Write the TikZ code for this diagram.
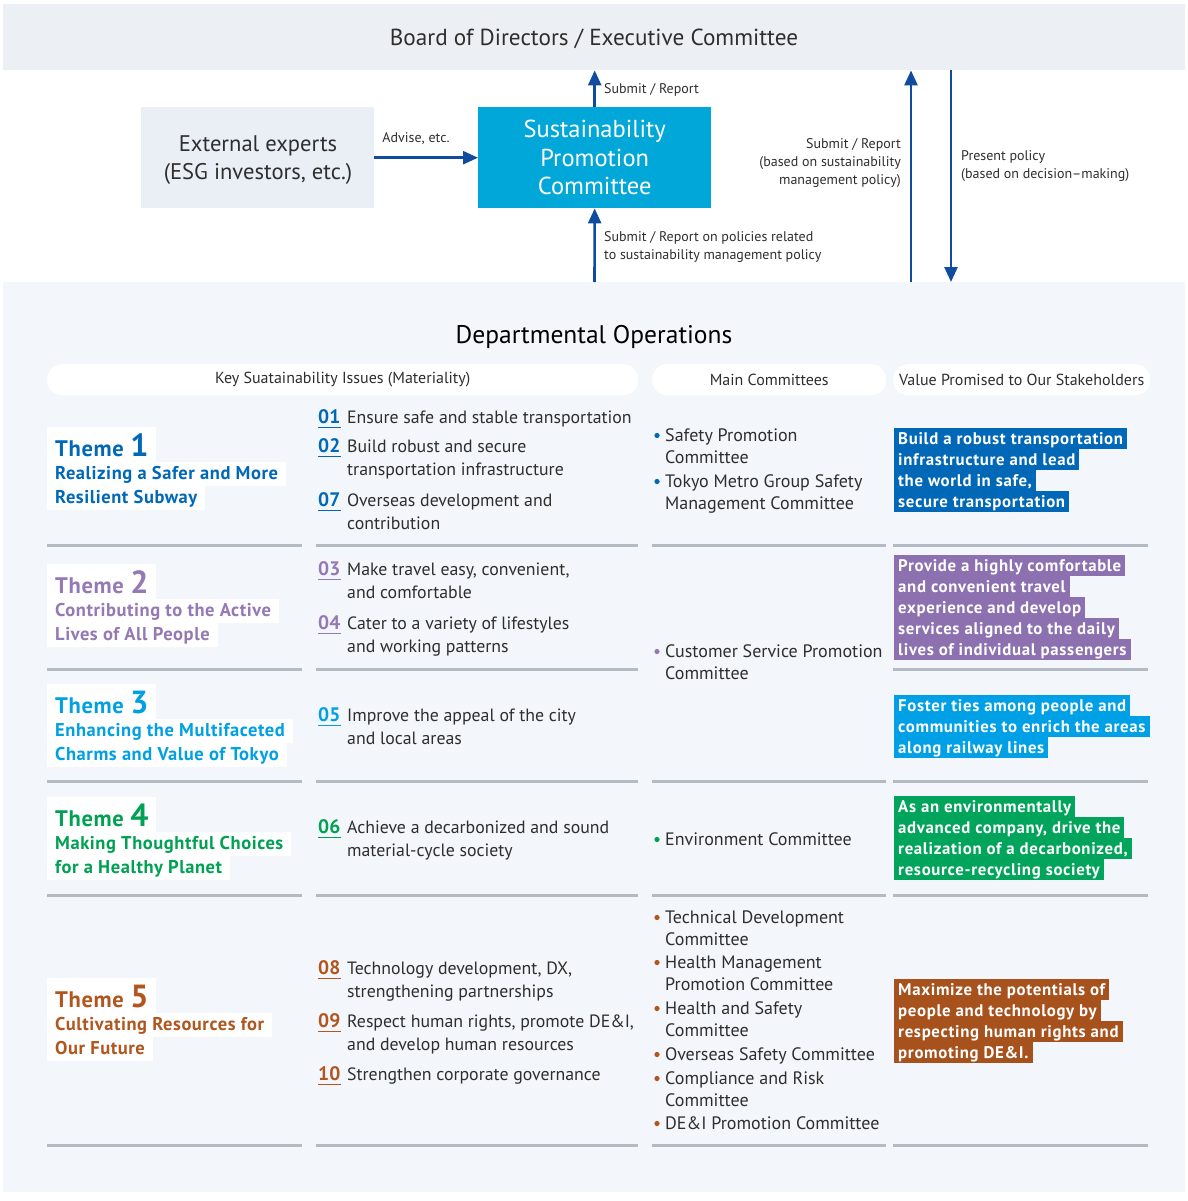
\documentclass[tikz,border=0pt]{standalone}
\usepackage{fontspec}
\setmainfont{PT Sans}
\usetikzlibrary{arrows.meta}
\definecolor{boardbg}{HTML}{ECF0F5}
\definecolor{deptbg}{HTML}{F3F6FA}
\definecolor{extbg}{HTML}{EAEFF5}
\definecolor{spcblue}{HTML}{00A7D8}
\definecolor{arrowblue}{HTML}{0F4C9E}
\definecolor{rulegray}{HTML}{B3BAC2}
\definecolor{bodytext}{HTML}{2E2E2E}
\definecolor{tOne}{HTML}{0068B7}
\definecolor{tTwo}{HTML}{9479B5}
\definecolor{tThree}{HTML}{00A0E3}
\definecolor{tFour}{HTML}{00A153}
\definecolor{tFive}{HTML}{B0561E}
\definecolor{vOne}{HTML}{0068B7}
\definecolor{vTwo}{HTML}{8C70B0}
\definecolor{vThree}{HTML}{00A0E6}
\definecolor{vFour}{HTML}{00A45A}
\definecolor{vFive}{HTML}{A7521D}
\newcommand\issuefont{\fontsize{17.8}{23}\selectfont}
\newcommand\commfont{\fontsize{18}{22.6}\selectfont}
\newcommand\issue[5]{%
  \node[numsty,text=#3] (#1n) at (318,#2) {#4};
  \draw[#3,line width=1.4pt] ([yshift=-4.5pt]#1n.base west) -- ([yshift=-4.5pt]#1n.base east);
  \node[issuesty] (#1t) at (347,#2-16.1) {\strut #5};
}
\newcommand\comm[4]{%
  \fill[#3] (657,#2-5.5) circle (2.6pt);
  \node[commsty] (#1) at (665,#2-15.82) {\strut #4};
}
\begin{document}
\begin{tikzpicture}[x=1pt,y=-1pt,
  every node/.style={text=bodytext},
  flow/.style={draw=arrowblue,line width=2.6pt,-{Triangle[length=15pt,width=13pt]}},
  small/.style={font=\fontsize{14}{18}\selectfont,inner sep=0pt},
  hdr/.style={fill=white,rounded corners=15pt,inner sep=0pt,minimum height=31pt,anchor=north west,font=\fontsize{16}{18}\selectfont},
  sep/.style={draw=rulegray,line width=3pt},
  numsty/.style={anchor=base west,inner sep=0pt,font=\fontsize{19.5}{23}\selectfont\bfseries},
  issuesty/.style={anchor=north west,inner sep=0pt,align=left,font=\issuefont},
  commsty/.style={anchor=north west,inner sep=0pt,align=left,font=\commfont},
  ttl/.style={anchor=base west,fill=white,inner xsep=8pt,inner ysep=0pt,text height=29pt,text depth=6pt,font=\fontsize{22.5}{24}\selectfont\bfseries\addfontfeature{LetterSpace=3}},
  sub/.style={anchor=base west,fill=white,inner xsep=8pt,inner ysep=0pt,text height=17pt,text depth=7pt,font=\fontsize{18.5}{22}\selectfont\bfseries\addfontfeature{LetterSpace=3}},
  val/.style={anchor=base west,inner xsep=4pt,inner ysep=0pt,text height=16pt,text depth=5pt,text=white,font=\fontsize{16.8}{21}\selectfont\bfseries\addfontfeature{LetterSpace=4}}
]
\useasboundingbox (0,0) rectangle (1187,1201);
% backgrounds
\node[fill=boardbg,minimum width=1182pt,minimum height=66pt,inner sep=0pt,anchor=north west] (board) at (3,4) {};
\node[font=\fontsize{23.2}{26}\selectfont] (boardtxt) at (594,39) {Board of Directors / Executive Committee};
\node[fill=deptbg,minimum width=1182pt,minimum height=910pt,inner sep=0pt,anchor=north west] (dept) at (3,282) {};
\node[anchor=center,font=\fontsize{25.5}{28}\selectfont,text=black] (depttitle) at (594,337) {Departmental Operations};
% top boxes
\node[fill=extbg,minimum width=233pt,minimum height=101pt,inner sep=0pt,anchor=north west] (ext) at (141,107) {};
\node[align=center,font=\fontsize{22.6}{28}\selectfont] (exttxt) at (258,160) {External experts\\(ESG investors, etc.)};
\node[fill=spcblue,minimum width=233pt,minimum height=101pt,inner sep=0pt,anchor=north west,align=center,text=white,font=\fontsize{24.5}{28.5}\selectfont] (spc) at (478,107) {Sustainability\\Promotion\\Committee};
% connectors
\draw[flow] (ext.east) -- (spc.west);
\node[small,anchor=south] (advise) at (416,145) {Advise, etc.};
\draw[flow] (spc.north) -- (spc.north |- board.south);
\node[small,anchor=west] (lbl1) at (604,90) {Submit / Report};
\coordinate (d1) at (594.5,282);
\draw[flow] (d1) -- (spc.south);
\node[small,anchor=north west,align=left] (lbl2) at (604,231) {Submit / Report on policies related\\to sustainability management policy};
\coordinate (d2) at (911,282);
\draw[flow] (d2) -- (d2 |- board.south);
\node[small,anchor=north east,align=right] (lbl3) at (901,138) {Submit / Report\\(based on sustainability\\management policy)};
\coordinate (b3) at (951,70);
\draw[flow] (b3) -- (b3 |- dept.north);
\node[small,anchor=north west,align=left] (lbl4) at (961,150) {Present policy\\(based on decision--making)};
% header pills
\node[hdr,minimum width=591pt] (h1) at (47,364) {Key Suatainability Issues (Materiality)};
\node[hdr,minimum width=234pt] (h2) at (652,364) {Main Committees};
\node[hdr,minimum width=257pt] (h3) at (893,364) {Value Promised to Our Stakeholders};
% separators
\foreach \yy in {545,781,895,1145}{
  \draw[sep] (47,\yy) -- (302,\yy);
  \draw[sep] (316,\yy) -- (638,\yy);
  \draw[sep] (652,\yy) -- (886,\yy);
  \draw[sep] (893,\yy) -- (1148,\yy);
}
\draw[sep] (47,669) -- (302,669);
\draw[sep] (316,669) -- (638,669);
\draw[sep] (893,669) -- (1148,669);
% themes
\node[ttl,text=tOne] (th1) at (47,456) {Theme \fontsize{32}{32}\selectfont 1};
\node[sub,text=tOne] (th1a) at (47,479) {Realizing a Safer and More};
\node[sub,text=tOne] (th1b) at (47,503) {Resilient Subway};
\node[ttl,text=tTwo] (th2) at (47,593) {Theme \fontsize{32}{32}\selectfont 2};
\node[sub,text=tTwo] (th2a) at (47,616) {Contributing to the Active};
\node[sub,text=tTwo] (th2b) at (47,640) {Lives of All People};
\node[ttl,text=tThree] (th3) at (47,713) {Theme \fontsize{32}{32}\selectfont 3};
\node[sub,text=tThree] (th3a) at (47,736) {Enhancing the Multifaceted};
\node[sub,text=tThree] (th3b) at (47,760) {Charms and Value of Tokyo};
\node[ttl,text=tFour] (th4) at (47,826) {Theme \fontsize{32}{32}\selectfont 4};
\node[sub,text=tFour] (th4a) at (47,849) {Making Thoughtful Choices};
\node[sub,text=tFour] (th4b) at (47,873) {for a Healthy Planet};
\node[ttl,text=tFive] (th5) at (47,1007) {Theme \fontsize{32}{32}\selectfont 5};
\node[sub,text=tFive] (th5a) at (47,1030) {Cultivating Resources for};
\node[sub,text=tFive] (th5b) at (47,1054) {Our Future};
% issues
\issue{i01}{423}{tOne}{01}{Ensure safe and stable transportation}
\issue{i02}{452}{tOne}{02}{Build robust and secure\\transportation infrastructure}
\issue{i07}{506}{tOne}{07}{Overseas development and\\contribution}
\issue{i03}{575}{tTwo}{03}{Make travel easy, convenient,\\and comfortable}
\issue{i04}{629}{tTwo}{04}{Cater to a variety of lifestyles\\and working patterns}
\issue{i05}{721}{tThree}{05}{Improve the appeal of the city\\and local areas}
\issue{i06}{833}{tFour}{06}{Achieve a decarbonized and sound\\material-cycle society}
\issue{i08}{974}{tFive}{08}{Technology development, DX,\\strengthening partnerships}
\issue{i09}{1027}{tFive}{09}{Respect human rights, promote DE\&I,\\and develop human resources}
\issue{i10}{1080}{tFive}{10}{Strengthen corporate governance}
% committees
\comm{c1}{441}{tOne}{Safety Promotion\\Committee}
\comm{c2}{487}{tOne}{Tokyo Metro Group Safety\\Management Committee}
\comm{c3}{657}{tTwo}{Customer Service Promotion\\Committee}
\comm{c4}{845}{tFour}{Environment Committee}
\comm{c5}{923}{tFive}{Technical Development\\Committee}
\comm{c6}{968}{tFive}{Health Management\\Promotion Committee}
\comm{c7}{1014}{tFive}{Health and Safety\\Committee}
\comm{c8}{1060}{tFive}{Overseas Safety Committee}
\comm{c9}{1084}{tFive}{Compliance and Risk\\Committee}
\comm{c10}{1129}{tFive}{DE\&I Promotion Committee}
% values
\node[val,fill=vOne] (v1a) at (894,444) {Build a robust transportation};
\node[val,fill=vOne] (v1b) at (894,465) {infrastructure and lead};
\node[val,fill=vOne] (v1c) at (894,486) {the world in safe,};
\node[val,fill=vOne] (v1d) at (894,507) {secure transportation};
\node[val,fill=vTwo] (v2a) at (894,571) {Provide a highly comfortable};
\node[val,fill=vTwo] (v2b) at (894,592) {and convenient travel};
\node[val,fill=vTwo] (v2c) at (894,613) {experience and develop};
\node[val,fill=vTwo] (v2d) at (894,634) {services aligned to the daily};
\node[val,fill=vTwo] (v2e) at (894,655) {lives of individual passengers};
\node[val,fill=vThree] (v3a) at (894,711) {Foster ties among people and};
\node[val,fill=vThree] (v3b) at (894,732) {communities to enrich the areas};
\node[val,fill=vThree] (v3c) at (894,753) {along railway lines};
\node[val,fill=vFour] (v4a) at (894,812) {As an environmentally};
\node[val,fill=vFour] (v4b) at (894,833) {advanced company, drive the};
\node[val,fill=vFour] (v4c) at (894,854) {realization of a decarbonized,};
\node[val,fill=vFour] (v4d) at (894,875) {resource-recycling society};
\node[val,fill=vFive] (v5a) at (894,995) {Maximize the potentials of};
\node[val,fill=vFive] (v5b) at (894,1016) {people and technology by};
\node[val,fill=vFive] (v5c) at (894,1037) {respecting human rights and};
\node[val,fill=vFive] (v5d) at (894,1058) {promoting DE\&I.};
\end{tikzpicture}
\end{document}
